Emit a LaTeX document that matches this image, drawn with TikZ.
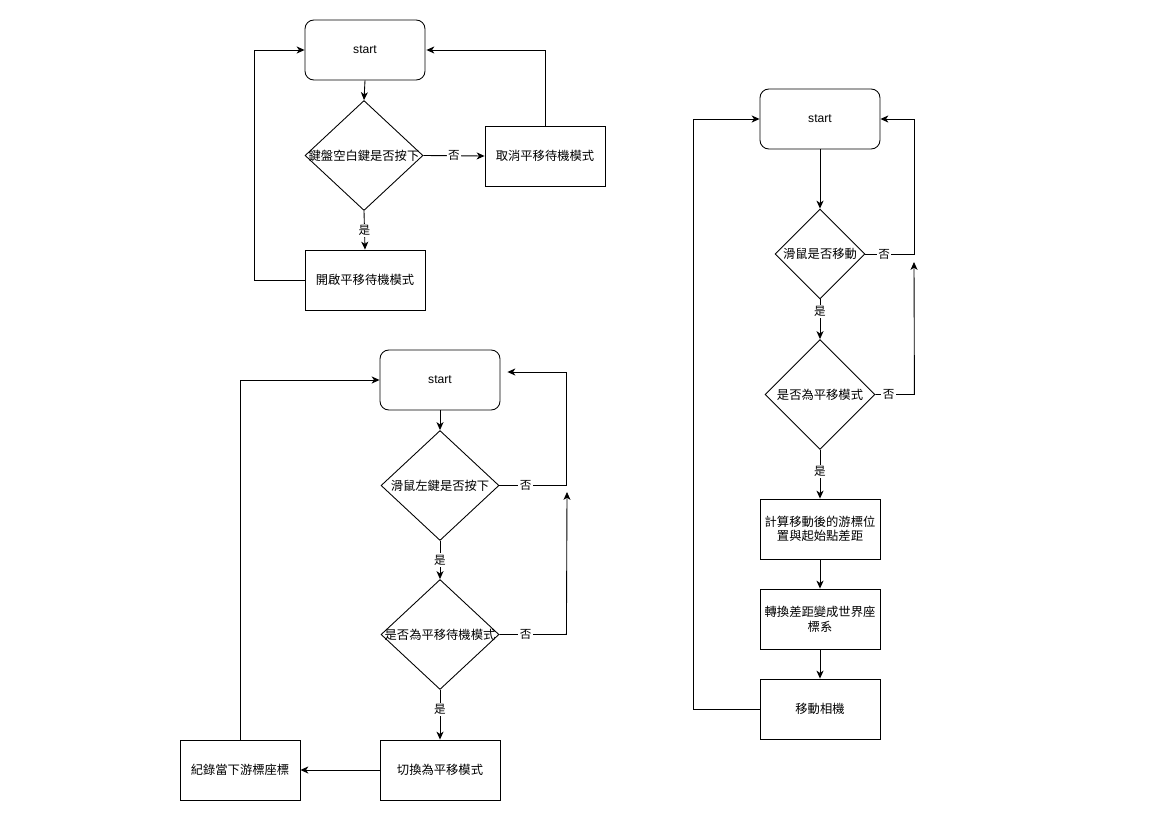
\documentclass[tikz,border=0pt]{standalone}
\usepackage{fontspec}
\setmainfont{Liberation Sans}
\newfontfamily\cjk{Noto Sans CJK TC}
\usetikzlibrary{arrows.meta,shapes.geometric,calc}
\begin{document}
\begin{tikzpicture}[x=0.02cm,y=-0.02cm,
  every node/.style={font=\fontsize{6.9}{8.3}\selectfont},
  box/.style={draw,line width=0.5pt,minimum width=2.4cm,minimum height=1.2cm,inner sep=0pt,align=center,font=\cjk\fontsize{7}{8.3}\selectfont},
  startbox/.style={box,rounded corners=5pt,font=\fontsize{6.9}{8.3}\selectfont},
  dia/.style={draw,diamond,line width=0.5pt,inner sep=0pt,shape aspect=1},
  lbl/.style={fill=white,inner sep=0.8pt,font=\cjk\fontsize{6.6}{7.5}\selectfont},
  dtext/.style={font=\cjk\fontsize{7}{8.3}\selectfont},
  arr/.style={line width=0.5pt,-{Stealth[length=4.5pt,width=4pt,inset=1.3pt]}},
  ln/.style={line width=0.5pt}]
\useasboundingbox (0,0) rectangle (1170,828);

% ---------- top-left ----------
\node[startbox] (s1) at (365,50) {start};
\node[dia,minimum width=2.36cm,minimum height=2.2cm,label={[dtext]center:鍵盤空白鍵是否按下}] (d1) at (364,155.5) {};
\node[box] (c1) at (545,156) {取消平移待機模式};
\node[box] (o1) at (365,280) {開啟平移待機模式};
\draw[arr] (s1.south) -- (d1.north);
\draw[arr] (d1.east) -- node[lbl,pos=0.5]{否} (c1.west);
\draw[arr] (d1.south) -- node[lbl,pos=0.5]{是} (o1.north);
\draw[arr] (o1.west) -- ++(-50,0) |- (s1.west);
\draw[arr] (c1.north) |- ($(s1.east)+(1,0)$);

% ---------- bottom-left ----------
\node[startbox] (s2) at (440,380) {start};
\node[dia,minimum width=2.36cm,minimum height=2.2cm,label={[dtext]center:滑鼠左鍵是否按下}] (a1) at (440,485.5) {};
\node[dia,minimum width=2.36cm,minimum height=2.2cm,label={[dtext]center:是否為平移待機模式}] (a2) at (440,634.5) {};
\node[box] (sw) at (440,770) {切換為平移模式};
\node[box] (rec) at (240,770) {紀錄當下游標座標};
\coordinate (s2in) at ($(s2.east)+(7,-8)$);
\coordinate (j2) at (567,492);
\draw[arr] (s2.south) -- (a1.north);
\draw[arr] (a1.south) -- node[lbl,pos=0.5]{是} (a2.north);
\draw[arr] (a2.south) -- node[lbl,pos=0.4]{是} (sw.north);
\draw[arr] (sw.west) -- (rec.east);
\draw[arr] (rec.north) |- (s2.west);
\draw[arr] (a1.east) -- node[lbl,pos=0.39]{否} ++(67,0) |- (s2in);
\draw[arr] (a2.east) -- node[lbl,pos=0.39]{否} ++(67,0) -- (j2);

% ---------- right ----------
\node[startbox] (s3) at (820,119) {start};
\node[dia,minimum width=1.8cm,minimum height=1.8cm,label={[dtext]center:滑鼠是否移動}] (r1) at (820,254) {};
\node[dia,minimum width=2.2cm,minimum height=2.2cm,label={[dtext]center:是否為平移模式}] (r2) at (820,394.5) {};
\node[box] (calc) at (820,529) {計算移動後的游標位\\置與起始點差距};
\node[box] (conv) at (820,619) {轉換差距變成世界座\\標系};
\node[box] (mv) at (820,709) {移動相機};
\coordinate (j3) at (914,262);
\draw[arr] (s3.south) -- (r1.north);
\draw[arr] (r1.south) -- node[lbl,pos=0.3]{是} (r2.north);
\draw[arr] (r2.south) -- node[lbl,pos=0.45]{是} (calc.north);
\draw[arr] (calc.south) -- (conv.north);
\draw[arr] (conv.south) -- (mv.north);
\draw[arr] (mv.west) -- ++(-66,0) |- (s3.west);
\draw[arr] (r1.east) -- node[lbl,pos=0.38]{否} ++(49,0) |- (s3.east);
\draw[arr] (r2.east) -- node[lbl,pos=0.34]{否} ++(39,0) -- (j3);
\end{tikzpicture}
\end{document}
